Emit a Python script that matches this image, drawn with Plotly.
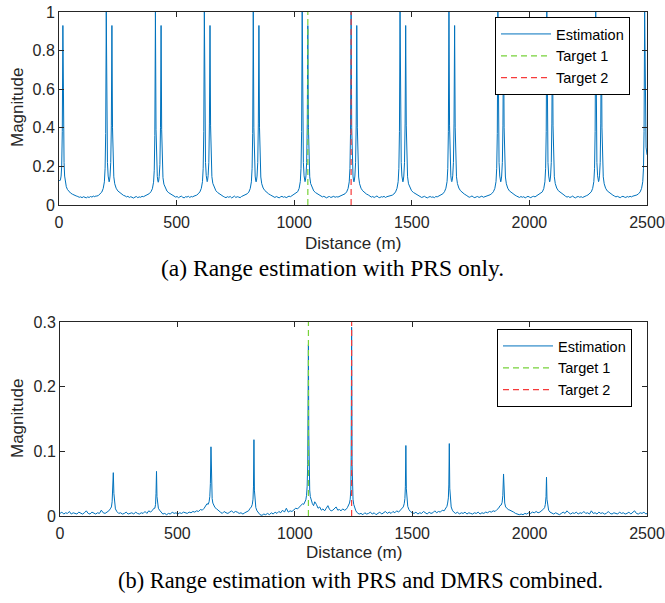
import plotly.graph_objects as go

# ---------------- data: (a) PRS only ----------------
main_peaks_a = [201, 410, 618, 826, 1034, 1242, 1450, 1658, 1866, 2074, 2282, 2490]
offsets_a = [-40, -33, -26, -19, -13, -8, -5, -2.5, 0, 2.5, 5, 8, 10.5, 12, 13.5, 16, 19, 21.5,
             24, 26.5, 29, 32, 36, 42, 49, 57, 65, 73,
             80, 86, 92, 98, 104, 110, 116, 122, 128, 134, 140, 146, 152, 158, 164]

lead_distance_a = [0, 3, 6, 9, 11.5, 14, 16.5, 19, 21.5, 24, 27, 31, 36, 42, 49, 57, 65, 73,
                   80, 86, 92, 98, 104, 110, 116, 122, 128, 134, 140, 146, 152, 157]
lead_magnitude_a = [0.13, 0.125, 0.13, 0.15, 0.2, 0.38, 0.93, 0.42, 0.22, 0.15, 0.115, 0.095, 0.08, 0.07,
                    0.062, 0.056, 0.05, 0.047,
                    0.044, 0.04, 0.042, 0.038, 0.043, 0.04, 0.037, 0.042, 0.039, 0.044, 0.041, 0.046, 0.043, 0.047]

magnitude_a_rows = [
    [0.046, 0.05, 0.057, 0.067, 0.086, 0.12, 0.19, 0.37, 1.0, 0.41, 0.22, 0.15, 0.126, 0.12, 0.124, 0.15, 0.22, 0.41,
     0.93, 0.4, 0.21, 0.146, 0.11, 0.087, 0.073, 0.065, 0.057, 0.05,
     0.047, 0.042, 0.045, 0.039, 0.043, 0.04, 0.036, 0.041, 0.044, 0.038, 0.042, 0.04, 0.045, 0.043, 0.047],
    [0.048, 0.053, 0.059, 0.069, 0.084, 0.118, 0.18, 0.36, 1.0, 0.39, 0.21, 0.148, 0.124, 0.118, 0.123, 0.148, 0.21, 0.4,
     0.93, 0.39, 0.2, 0.142, 0.108, 0.086, 0.072, 0.063, 0.058, 0.051,
     0.046, 0.041, 0.044, 0.038, 0.042, 0.046, 0.04, 0.037, 0.043, 0.041, 0.045, 0.039, 0.044, 0.042, 0.046],
    [0.047, 0.051, 0.058, 0.068, 0.086, 0.121, 0.19, 0.38, 1.0, 0.4, 0.22, 0.152, 0.127, 0.121, 0.126, 0.152, 0.22, 0.42,
     0.93, 0.41, 0.21, 0.147, 0.112, 0.089, 0.074, 0.064, 0.056, 0.05,
     0.045, 0.041, 0.038, 0.043, 0.04, 0.044, 0.037, 0.041, 0.046, 0.039, 0.043, 0.041, 0.038, 0.044, 0.047],
    [0.048, 0.052, 0.058, 0.067, 0.085, 0.12, 0.19, 0.37, 1.0, 0.4, 0.22, 0.15, 0.125, 0.12, 0.125, 0.15, 0.22, 0.42,
     0.93, 0.4, 0.21, 0.145, 0.11, 0.088, 0.075, 0.065, 0.058, 0.052,
     0.047, 0.043, 0.039, 0.044, 0.041, 0.037, 0.042, 0.045, 0.04, 0.043, 0.038, 0.042, 0.046, 0.043, 0.048],
    [0.049, 0.053, 0.059, 0.069, 0.086, 0.122, 0.19, 0.38, 1.0, 0.41, 0.22, 0.151, 0.126, 0.121, 0.126, 0.151, 0.22, 0.42,
     0.93, 0.4, 0.21, 0.146, 0.111, 0.088, 0.073, 0.064, 0.057, 0.051,
     0.046, 0.042, 0.045, 0.04, 0.037, 0.042, 0.044, 0.039, 0.041, 0.045, 0.04, 0.043, 0.041, 0.045, 0.048],
    [0.048, 0.052, 0.058, 0.068, 0.085, 0.12, 0.19, 0.37, 1.0, 0.4, 0.22, 0.15, 0.125, 0.12, 0.125, 0.15, 0.22, 0.41,
     0.93, 0.4, 0.21, 0.145, 0.11, 0.087, 0.074, 0.064, 0.057, 0.052,
     0.045, 0.041, 0.044, 0.039, 0.043, 0.047, 0.04, 0.038, 0.043, 0.041, 0.045, 0.039, 0.043, 0.045, 0.047],
    [0.047, 0.051, 0.057, 0.068, 0.086, 0.121, 0.19, 0.38, 1.0, 0.4, 0.22, 0.15, 0.126, 0.12, 0.125, 0.15, 0.22, 0.42,
     0.93, 0.41, 0.21, 0.146, 0.11, 0.088, 0.074, 0.065, 0.058, 0.052,
     0.046, 0.043, 0.039, 0.042, 0.045, 0.04, 0.037, 0.041, 0.044, 0.04, 0.042, 0.038, 0.044, 0.042, 0.047],
    [0.048, 0.052, 0.058, 0.069, 0.087, 0.122, 0.19, 0.38, 1.0, 0.41, 0.22, 0.151, 0.126, 0.121, 0.126, 0.151, 0.22, 0.42,
     0.93, 0.4, 0.21, 0.146, 0.111, 0.088, 0.074, 0.064, 0.057, 0.051,
     0.045, 0.04, 0.043, 0.047, 0.041, 0.038, 0.042, 0.044, 0.039, 0.043, 0.046, 0.04, 0.042, 0.044, 0.048],
    [0.049, 0.053, 0.059, 0.069, 0.086, 0.121, 0.19, 0.37, 1.0, 0.4, 0.22, 0.15, 0.125, 0.12, 0.125, 0.15, 0.22, 0.41,
     0.93, 0.4, 0.21, 0.145, 0.11, 0.087, 0.073, 0.064, 0.057, 0.051,
     0.046, 0.042, 0.039, 0.044, 0.04, 0.043, 0.037, 0.041, 0.045, 0.041, 0.038, 0.043, 0.045, 0.042, 0.047],
    [0.048, 0.052, 0.058, 0.068, 0.085, 0.12, 0.19, 0.38, 1.0, 0.4, 0.22, 0.15, 0.125, 0.12, 0.125, 0.15, 0.22, 0.42,
     0.93, 0.41, 0.21, 0.146, 0.111, 0.088, 0.074, 0.065, 0.058, 0.052,
     0.045, 0.041, 0.044, 0.039, 0.042, 0.046, 0.04, 0.037, 0.042, 0.044, 0.04, 0.043, 0.039, 0.044, 0.047],
    [0.048, 0.052, 0.058, 0.068, 0.086, 0.121, 0.19, 0.38, 1.0, 0.41, 0.22, 0.151, 0.126, 0.121, 0.126, 0.151, 0.22, 0.42,
     0.93, 0.4, 0.21, 0.146, 0.11, 0.087, 0.073, 0.064, 0.057, 0.051,
     0.046, 0.042, 0.045, 0.04, 0.038, 0.043, 0.045, 0.041, 0.039, 0.044, 0.041, 0.045, 0.042, 0.046, 0.048],
    [0.048, 0.052, 0.058, 0.068, 0.086, 0.121, 0.19, 0.38, 1.0, 0.42],
]
tail_distance_a = [2496, 2500]
tail_magnitude_a = [0.3, 0.26]

# ---------------- data: (b) PRS + DMRS ----------------
distance_b = (
    [0, 8, 16, 24, 32, 40, 48, 56, 64, 72, 80, 88, 96, 104, 112, 120, 128, 136, 144, 152, 160, 168, 176, 184, 192, 200, 208, 214]
    + [219, 222, 224.5, 227, 229.5, 232, 236, 242]
    + [250, 258, 266, 274, 282, 290, 298, 306, 314, 322, 330, 338, 346, 354, 362, 370, 378, 386, 394, 400]
    + [404, 407, 409, 411, 413, 415.5, 419, 424]
    + [430, 438, 446, 454, 462, 470, 478, 486, 494, 502, 510, 518, 526, 534, 542, 550, 558, 566, 574, 582, 590, 598, 606, 614, 620, 626]
    + [631, 635, 638, 640.5, 643, 645.5, 648, 651, 655, 660, 667, 675]
    + [683, 691, 699, 707, 715, 723, 731, 739, 747, 755, 763, 771, 779, 787, 795, 803, 810]
    + [815, 819, 822, 824, 826, 828, 830.5, 834, 839, 845]
    + [852, 860, 868, 876, 884, 892, 900, 908, 916, 924, 932, 940, 948, 956, 964, 972, 980, 988, 996, 1004, 1012, 1020, 1027, 1033]
    + [1038, 1043, 1047, 1050, 1052.5, 1055, 1056.5, 1058, 1059.5, 1061, 1063.5, 1066, 1070, 1075, 1080, 1085]
    + [1092, 1099, 1106, 1113, 1120, 1127, 1134, 1141, 1148, 1155, 1162, 1169, 1176, 1183, 1190, 1197, 1204, 1211, 1218, 1224, 1229]
    + [1233, 1236, 1238.5, 1240, 1242, 1244, 1245.5, 1248, 1251, 1255, 1260]
    + [1266, 1274, 1282, 1290, 1298, 1306, 1314, 1322, 1330, 1338, 1346, 1354, 1362, 1370, 1378, 1386, 1394, 1402, 1410, 1418, 1426, 1434, 1442, 1450, 1457]
    + [1462, 1466, 1469, 1471, 1473, 1475, 1477.5, 1481, 1486, 1492]
    + [1500, 1508, 1516, 1524, 1532, 1540, 1548, 1556, 1564, 1572, 1580, 1588, 1596, 1604, 1612, 1620, 1628, 1636, 1644]
    + [1648, 1651, 1654, 1656, 1658, 1660, 1662.5, 1666, 1671, 1677]
    + [1685, 1693, 1701, 1709, 1717, 1725, 1733, 1741, 1749, 1757, 1765, 1773, 1781, 1789, 1797, 1805, 1813, 1821, 1829, 1837, 1845, 1853, 1861, 1868, 1874]
    + [1879, 1883, 1886, 1889, 1891.5, 1894, 1898, 1903, 1909]
    + [1916, 1924, 1932, 1940, 1948, 1956, 1964, 1972, 1980, 1988, 1996, 2004, 2012, 2020, 2028, 2036, 2044, 2052, 2060]
    + [2064, 2067, 2070, 2072, 2074, 2077, 2081, 2087]
    + [2095, 2103, 2111, 2119, 2127, 2135, 2143, 2151, 2159, 2167, 2175, 2183, 2191, 2199, 2207, 2215, 2223, 2231, 2239, 2247,
       2255, 2263, 2271, 2279, 2287, 2295, 2303, 2311, 2319, 2327, 2335, 2343, 2351, 2359, 2367, 2375, 2383, 2391, 2399, 2407,
       2415, 2423, 2431, 2439, 2447, 2455, 2463, 2471, 2479, 2487, 2495, 2500]
)
magnitude_b = (
    [0.004, 0.006, 0.003, 0.005, 0.004, 0.007, 0.003, 0.005, 0.004, 0.003, 0.006, 0.004, 0.003, 0.005, 0.008, 0.004, 0.003, 0.006, 0.004, 0.003, 0.005, 0.004, 0.009, 0.005, 0.004, 0.006, 0.008, 0.011]
    + [0.014, 0.022, 0.04, 0.067, 0.035, 0.019, 0.011, 0.007]
    + [0.004, 0.005, 0.003, 0.004, 0.006, 0.003, 0.004, 0.005, 0.003, 0.006, 0.004, 0.003, 0.005, 0.004, 0.007, 0.004, 0.008, 0.006, 0.009, 0.012]
    + [0.012, 0.018, 0.035, 0.069, 0.03, 0.016, 0.012, 0.009]
    + [0.006, 0.003, 0.004, 0.002, 0.004, 0.003, 0.006, 0.004, 0.005, 0.003, 0.005, 0.004, 0.006, 0.005, 0.004, 0.006, 0.005, 0.007, 0.006, 0.008, 0.007, 0.01, 0.009, 0.012, 0.016, 0.019]
    + [0.018, 0.022, 0.03, 0.05, 0.107, 0.045, 0.027, 0.02, 0.016, 0.013, 0.011, 0.008]
    + [0.006, 0.004, 0.007, 0.005, 0.004, 0.006, 0.008, 0.005, 0.007, 0.006, 0.004, 0.005, 0.003, 0.005, 0.006, 0.008, 0.012]
    + [0.014, 0.018, 0.026, 0.045, 0.118, 0.04, 0.022, 0.013, 0.008, 0.005]
    + [0.002, 0.001, 0.003, 0.002, 0.004, 0.002, 0.005, 0.003, 0.006, 0.004, 0.007, 0.005, 0.009, 0.006, 0.012, 0.006, 0.008, 0.007, 0.01, 0.012, 0.011, 0.014, 0.016, 0.019]
    + [0.018, 0.021, 0.025, 0.032, 0.045, 0.08, 0.14, 0.265, 0.13, 0.07, 0.04, 0.03, 0.024, 0.019, 0.016, 0.022]
    + [0.018, 0.012, 0.014, 0.009, 0.011, 0.008, 0.012, 0.016, 0.01, 0.008, 0.009, 0.011, 0.014, 0.009, 0.01, 0.008, 0.011, 0.009, 0.01, 0.013, 0.017]
    + [0.02, 0.026, 0.04, 0.09, 0.292, 0.08, 0.04, 0.026, 0.018, 0.012, 0.008]
    + [0.005, 0.003, 0.004, 0.002, 0.005, 0.003, 0.004, 0.006, 0.003, 0.005, 0.002, 0.004, 0.006, 0.003, 0.005, 0.007, 0.004, 0.006, 0.004, 0.007, 0.005, 0.008, 0.006, 0.009, 0.012]
    + [0.014, 0.019, 0.027, 0.046, 0.109, 0.042, 0.024, 0.015, 0.01, 0.007]
    + [0.005, 0.004, 0.006, 0.003, 0.005, 0.004, 0.007, 0.005, 0.003, 0.006, 0.004, 0.005, 0.008, 0.005, 0.007, 0.006, 0.009, 0.008, 0.012]
    + [0.015, 0.02, 0.028, 0.048, 0.112, 0.043, 0.023, 0.014, 0.009, 0.006]
    + [0.004, 0.006, 0.003, 0.005, 0.004, 0.006, 0.003, 0.005, 0.004, 0.003, 0.005, 0.004, 0.006, 0.003, 0.005, 0.004, 0.006, 0.005, 0.007, 0.006, 0.008, 0.007, 0.01, 0.012, 0.016]
    + [0.017, 0.021, 0.032, 0.065, 0.03, 0.02, 0.014, 0.012, 0.01]
    + [0.009, 0.008, 0.006, 0.004, 0.003, 0.002, 0.003, 0.002, 0.004, 0.003, 0.005, 0.004, 0.006, 0.005, 0.007, 0.005, 0.006, 0.008, 0.011]
    + [0.013, 0.018, 0.03, 0.06, 0.026, 0.014, 0.009, 0.006]
    + [0.004, 0.003, 0.005, 0.004, 0.002, 0.004, 0.006, 0.004, 0.008, 0.005, 0.003, 0.005, 0.004, 0.006, 0.003, 0.005, 0.004, 0.007, 0.004, 0.005,
       0.003, 0.008, 0.004, 0.005, 0.003, 0.006, 0.004, 0.005, 0.003, 0.004, 0.007, 0.004, 0.003, 0.005, 0.004, 0.003, 0.006, 0.004, 0.005, 0.003,
       0.004, 0.006, 0.003, 0.005, 0.008, 0.004, 0.003, 0.005, 0.004, 0.006, 0.003, 0.004]
)

target1_distance = 1058
target2_distance = 1242
ymax_a = 1.0
ymax_b = 0.3

x_ticks = [0, 500, 1000, 1500, 2000, 2500]
x_ticktext = ["0", "500", "1000", "1500", "2000", "2500"]
y_ticks_a = [0, 0.2, 0.4, 0.6, 0.8, 1.0]
y_ticktext_a = ["0", "0.2", "0.4", "0.6", "0.8", "1"]
y_ticks_b = [0, 0.1, 0.2, 0.3]
y_ticktext_b = ["0", "0.1", "0.2", "0.3"]

series_names = ["Estimation", "Target 1", "Target 2"]
caption_a = "(a) Range estimation with PRS only."
caption_b = "(b) Range estimation with PRS and DMRS combined."
x_title = "Distance (m)"
y_title = "Magnitude"

# ---------------- build top series ----------------
distance_a = list(lead_distance_a)
magnitude_a = list(lead_magnitude_a)
for center, row in zip(main_peaks_a, magnitude_a_rows):
    distance_a += [center + o for o in offsets_a[:len(row)]]
    magnitude_a += row
distance_a += tail_distance_a
magnitude_a += tail_magnitude_a

n_b = min(len(distance_b), len(magnitude_b))
distance_b = distance_b[:n_b]
magnitude_b = magnitude_b[:n_b]

BLUE = "#0072BD"
GREEN = "#77D23A"
RED = "#F53B3B"
AX = "#262626"
SANS = "Liberation Sans, Arial, sans-serif"
SERIF = "Liberation Serif, Times New Roman, serif"

fig = go.Figure()

# top panel
fig.add_trace(go.Scatter(x=distance_a, y=magnitude_a, mode="lines", name=series_names[0],
                         line=dict(color=BLUE, width=1), xaxis="x", yaxis="y", legend="legend"))
fig.add_trace(go.Scatter(x=[target1_distance, target1_distance], y=[0, ymax_a], mode="lines", name=series_names[1],
                         line=dict(color=GREEN, width=1.2, dash="6px,4px"), xaxis="x", yaxis="y", legend="legend"))
fig.add_trace(go.Scatter(x=[target2_distance, target2_distance], y=[0, ymax_a], mode="lines", name=series_names[2],
                         line=dict(color=RED, width=1.2, dash="6px,4px"), xaxis="x", yaxis="y", legend="legend"))
# bottom panel
fig.add_trace(go.Scatter(x=distance_b, y=magnitude_b, mode="lines", name=series_names[0],
                         line=dict(color=BLUE, width=1), xaxis="x2", yaxis="y2", legend="legend2"))
fig.add_trace(go.Scatter(x=[target1_distance, target1_distance], y=[0, ymax_b], mode="lines", name=series_names[1],
                         line=dict(color=GREEN, width=1.2, dash="6px,4px"), xaxis="x2", yaxis="y2", legend="legend2"))
fig.add_trace(go.Scatter(x=[target2_distance, target2_distance], y=[0, ymax_b], mode="lines", name=series_names[2],
                         line=dict(color=RED, width=1.2, dash="6px,4px"), xaxis="x2", yaxis="y2", legend="legend2"))

W, H = 665, 603

def px_x(p):
    return p / W

def px_y(p):
    return 1 - p / H

axis_common = dict(showline=True, linecolor=AX, linewidth=1, mirror="allticks", ticks="inside",
                   ticklen=5, tickwidth=1, tickcolor=AX, showgrid=False, zeroline=False,
                   automargin=False,
                   tickfont=dict(family=SANS, size=16, color=AX))

legend_common = dict(bgcolor="white", bordercolor="black", borderwidth=1,
                     font=dict(family=SANS, size=14.5, color="black"),
                     xanchor="left", yanchor="top", tracegroupgap=0, itemwidth=50)

fig.update_layout(
    template="none",
    width=W, height=H,
    autosize=False,
    margin=dict(l=0, r=0, t=0, b=0, pad=0),
    paper_bgcolor="white", plot_bgcolor="white",
    xaxis=dict(domain=[px_x(59), px_x(647)], range=[0, 2500], tickvals=x_ticks, ticktext=x_ticktext,
               anchor="y", ticklabelstandoff=3, **axis_common),
    yaxis=dict(domain=[px_y(205), px_y(12)], range=[0, 1], tickvals=y_ticks_a, ticktext=y_ticktext_a,
               anchor="x", **axis_common),
    xaxis2=dict(domain=[px_x(60), px_x(647)], range=[0, 2500], tickvals=x_ticks, ticktext=x_ticktext,
                anchor="y2", ticklabelstandoff=3, **axis_common),
    yaxis2=dict(domain=[px_y(516), px_y(322)], range=[0, 0.3], tickvals=y_ticks_b, ticktext=y_ticktext_b,
                anchor="x2", **axis_common),
    legend=dict(x=px_x(495), y=px_y(17), **legend_common),
    legend2=dict(x=px_x(497), y=px_y(329), **legend_common),
    showlegend=True,
)

ann = []
ann.append(dict(text=x_title, x=px_x(353), y=px_y(243), xref="paper", yref="paper", showarrow=False,
                font=dict(family=SANS, size=17, color=AX), xanchor="center", yanchor="middle"))
ann.append(dict(text=x_title, x=px_x(354), y=px_y(552), xref="paper", yref="paper", showarrow=False,
                font=dict(family=SANS, size=17, color=AX), xanchor="center", yanchor="middle"))
ann.append(dict(text=y_title, x=px_x(18), y=px_y(108), xref="paper", yref="paper", showarrow=False, textangle=-90,
                font=dict(family=SANS, size=17, color=AX), xanchor="center", yanchor="middle"))
ann.append(dict(text=y_title, x=px_x(18), y=px_y(419), xref="paper", yref="paper", showarrow=False, textangle=-90,
                font=dict(family=SANS, size=17, color=AX), xanchor="center", yanchor="middle"))
ann.append(dict(text=caption_a, x=px_x(332), y=px_y(268), xref="paper", yref="paper", showarrow=False,
                font=dict(family=SERIF, size=23.5, color="black"), xanchor="center", yanchor="middle"))
ann.append(dict(text=caption_b, x=px_x(360), y=px_y(580), xref="paper", yref="paper", showarrow=False,
                font=dict(family=SERIF, size=22.4, color="black"), xanchor="center", yanchor="middle"))
fig.update_layout(annotations=ann)

fig.write_html("out.html",
               config={"displayModeBar": False, "responsive": False},
               post_script="document.body.style.margin='0';document.body.style.overflow='hidden';")
